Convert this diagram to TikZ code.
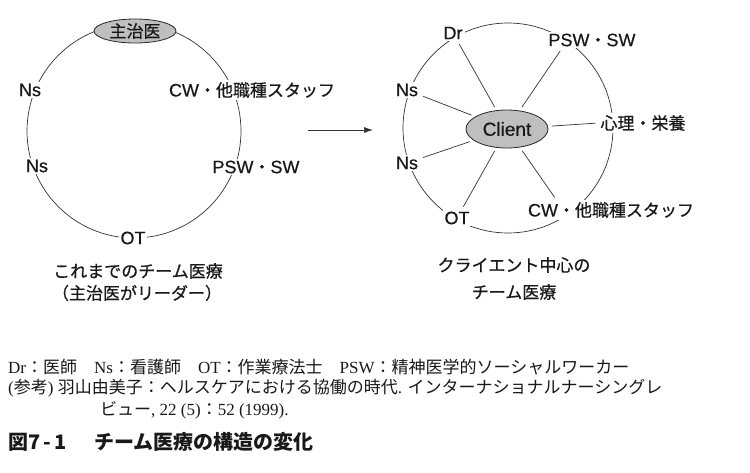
\documentclass[tikz,border=0pt]{standalone}
\usepackage{fontspec}
\usetikzlibrary{shapes.geometric,arrows.meta,calc}
\setmainfont{Liberation Sans}[FakeBold=0.5]
\newfontfamily\jp{Noto Sans CJK JP}[FakeBold=0.6]
\newfontfamily\jpn{Noto Sans CJK JP}
\newfontfamily\serif{Liberation Serif}
\newcommand{\J}[1]{{\jp\fontsize{17}{18}\selectfont #1}}
\begin{document}
\begin{tikzpicture}[x=1pt,y=-1pt,
  lbl/.style={fill=white,inner sep=2pt,text=black!90,font=\fontsize{18}{20}\selectfont},
  captxt/.style={inner sep=0pt,text=black!90,font=\jp\fontsize{17}{18}\selectfont},
  hub/.style={ellipse,draw=black!85,fill=black!25,line width=0.8pt,inner sep=0pt,text=black!90},
  ring/.style={draw=black!80,line width=0.7pt},
  spoke/.style={draw=black!80,line width=0.7pt,shorten <=4pt,shorten >=3pt},
  note/.style={anchor=west,inner sep=0pt,text=black!90,font=\jpn\fontsize{17}{18}\selectfont}]
\useasboundingbox[fill=white] (0,0) rectangle (750,472);
% left diagram
\draw[ring] (134,131) circle [radius=107];
\node[hub,minimum width=82,minimum height=24,font=\jp\fontsize{17}{18}\selectfont] (lead) at (135,31) {主治医};
\node[lbl] (lns1) at (30,90) {Ns};
\node[lbl] (lns2) at (37,166) {Ns};
\node[lbl] (lcw) at (252,90) {CW\J{・他職種スタッフ}};
\node[lbl] (lpsw) at (256,167) {PSW\J{・}SW};
\node[lbl] (lot) at (133,238) {OT};
\node[captxt] (lc1) at (138,271) {これまでのチーム医療};
\node[captxt] (lc2) at (137,293) {（主治医がリーダー）};
% arrow
\coordinate (a1) at (308,130);
\coordinate (a2) at (373,130);
\draw[ring,-{Latex[length=9pt,width=6pt]}] (a1) -- (a2);
% right diagram
\draw[ring] (508,128) circle [radius=105];
\node[hub,minimum width=82,minimum height=38,font=\fontsize{19}{20}\selectfont] (client) at (507,129) {Client};
\node[lbl] (dr) at (453,33) {Dr};
\node[lbl] (rns1) at (407,90) {Ns};
\node[lbl] (rns2) at (407,163) {Ns};
\node[lbl] (rot) at (457,218) {OT};
\node[lbl] (rpsw) at (592,40) {PSW\J{・}SW};
\node[lbl] (rpsy) at (643,123) {\J{心理・栄養}};
\node[lbl] (rcw) at (611,210) {CW\J{・他職種スタッフ}};
\draw[spoke] (client) -- (dr);
\draw[spoke] (client) -- (rns1);
\draw[spoke] (client) -- (rns2);
\draw[spoke] (client) -- (rot);
\draw[spoke] (client) -- ($(rpsw.south west)!0.17!(rpsw.south east)$);
\draw[spoke] (client) -- (rpsy.west);
\draw[spoke] (client) -- ($(rcw.north west)!0.18!(rcw.north east)$);
\node[captxt] (rc1) at (514,265) {クライエント中心の};
\node[captxt] (rc2) at (514,292) {チーム医療};
% notes
\node[note] (n1) at (8,367) {{\serif Dr}：医師　{\serif Ns}：看護師　{\serif OT}：作業療法士　{\serif PSW}：精神医学的ソーシャルワーカー};
\node[note] (n2) at (8,388) {{\serif (}参考{\serif ) }羽山由美子：ヘルスケアにおける協働の時代{\serif . }インターナショナルナーシングレ};
\node[note] (n3) at (100,410) {ビュー{\serif , 22 (5)}：{\serif 52 (1999).}};
\node[note,font=\jpn\bfseries\fontsize{20}{22}\selectfont] (title) at (8,442) {図7\kern3pt-\kern3pt1\hspace{28pt}チーム医療の構造の変化};
\end{tikzpicture}
\end{document}
